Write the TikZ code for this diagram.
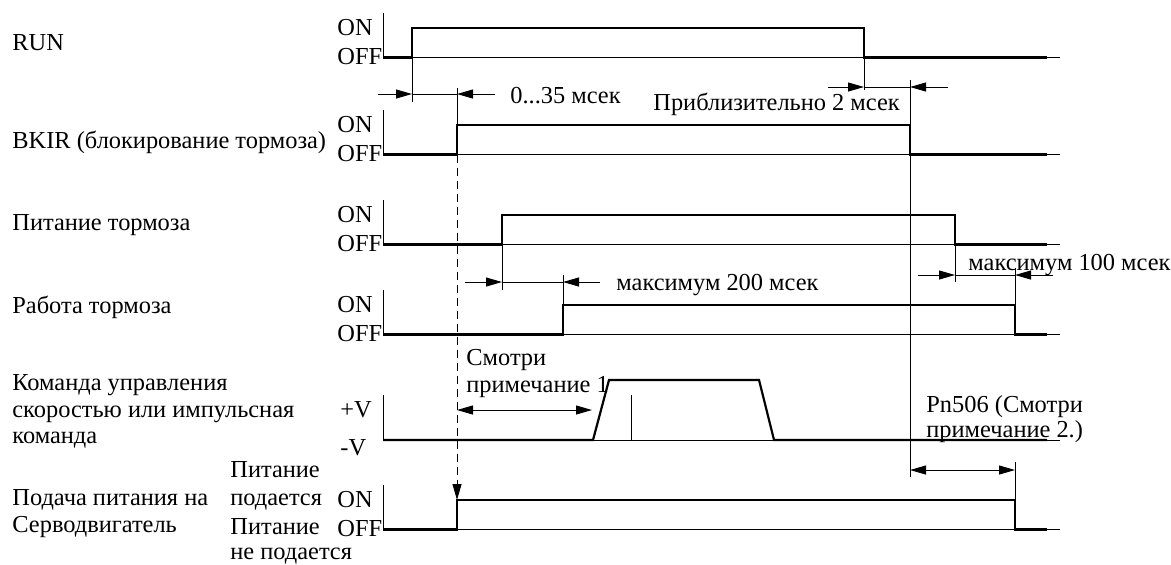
\documentclass[tikz,border=0pt]{standalone}
\usepackage{fontspec}
\setmainfont{Liberation Serif}
\usetikzlibrary{arrows.meta}

\begin{document}
\begin{tikzpicture}[
    x=0.5pt, y=-0.5pt,
    every node/.style={inner sep=0pt, font=\fontsize{12.2}{14}\selectfont},
    txt/.style={anchor=base west},
    axis/.style={line width=0.5pt},
    sig/.style={line width=1.1pt},
    ext/.style={line width=0.5pt},
    dim/.style={line width=0.5pt, -{Triangle[length=8pt,width=4.5pt]}},
    ddim/.style={line width=0.5pt, {Triangle[length=8pt,width=4.5pt]}-{Triangle[length=8pt,width=4.5pt]}},
]
    \useasboundingbox (0,0) rectangle (1171,564);
    \foreach \n/\on in {run/28, bkir/125, pwr/215, brk/305, srv/500} {
        \coordinate (\n-top) at (383,\on-15);
        \coordinate (\n-off) at (383,\on+29.5);
        \coordinate (\n-end) at (1060,\on+29.5);
        \draw[axis] (\n-top) -- (\n-off) -- (\n-end);
        \node[txt] (\n-onlbl) at (337,\on+7) {ON};
        \node[txt] (\n-offlbl) at (337,\on+36) {OFF};
    }
    \node[txt] (run-lbl) at (12,50) {RUN};
    \node[txt] (bkir-lbl) at (12,148) {BKIR (блокирование тормоза)};
    \node[txt] (pwr-lbl) at (12,230) {Питание тормоза};
    \node[txt] (brk-lbl) at (12,313) {Работа тормоза};
    \node[txt] (cmd-lbl1) at (12,390) {Команда управления};
    \node[txt] (cmd-lbl2) at (12,417) {скоростью или импульсная};
    \node[txt] (cmd-lbl3) at (12,443) {команда};
    \node[txt] (srv-lbl1) at (12,505) {Подача питания на};
    \node[txt] (srv-lbl2) at (12,532) {Серводвигатель};
    \node[txt] (srv-st1) at (230,477) {Питание};
    \node[txt] (srv-st2) at (230,505) {подается};
    \node[txt] (srv-st3) at (230,534) {Питание};
    \node[txt] (srv-st4) at (230,559) {не подается};
    \node[txt] (cmd-hi) at (340,417) {+V};
    \node[txt] (cmd-lo) at (340,455) {-V};

    \coordinate (run-rise) at (412,28);   \coordinate (run-fall) at (864,57.5);
    \coordinate (bkir-rise) at (457,154.5); \coordinate (bkir-fall) at (910,125);
    \coordinate (pwr-rise) at (502,244.5); \coordinate (pwr-fall) at (955,215);
    \coordinate (brk-rise) at (563,305);  \coordinate (brk-fall) at (1015,305);
    \coordinate (srv-rise) at (457,500);  \coordinate (srv-fall) at (1015,500);

    \draw[sig] (run-off) -- (412,57.5) |- (864,28) |- (1047,57.5);
    \draw[sig] (bkir-off) -- (bkir-rise) |- (bkir-fall) |- (1047,154.5);
    \draw[sig] (pwr-off) -- (pwr-rise) |- (pwr-fall) |- (1047,244.5);
    \draw[sig] (brk-off) -- (563,334.5) |- (brk-fall) |- (1047,334.5);
    \draw[sig] (srv-off) -- (457,529.5) |- (srv-fall) |- (1047,529.5);

    \coordinate (cmd-top) at (383,395);
    \coordinate (cmd-off) at (383,440);
    \draw[axis] (cmd-top) -- (cmd-off) -- (1060,440);
    \draw[sig] (cmd-off) -- (593,440) -- (609,380) -- (759,380) -- (774,440) -- (1047,440);
    \draw[axis] (631,395) -- (631,440);

    \coordinate (x35) at (412,102);  \coordinate (x35b) at (457,88);
    \coordinate (x2) at (864,90);    \coordinate (x2b) at (910,80);
    \coordinate (x200) at (502,290); \coordinate (x200b) at (563,275);
    \coordinate (x100) at (955,282); \coordinate (x100b) at (1015,268);
    \coordinate (xpn) at (910,477);  \coordinate (xpnb) at (1015,462);
    \draw[ext] (run-rise) -- (x35);
    \draw[ext] (bkir-rise) -- (x35b);
    \draw[ext] (run-fall) -- (x2);
    \draw[ext] (x2b) -- (xpn);
    \draw[ext] (pwr-rise) -- (x200);
    \draw[ext] (brk-rise) -- (x200b);
    \draw[ext] (pwr-fall) -- (x100);
    \draw[ext] (brk-fall) -- (x100b);
    \draw[ext] (srv-fall) -- (xpnb);
    \draw[dim, dash pattern=on 4pt off 2.5pt] (bkir-rise) -- (srv-rise);

    \coordinate (d35-a) at (378,94);  \coordinate (d35-b) at (412,94);
    \coordinate (d35-c) at (457,94);  \coordinate (d35-d) at (495,94);
    \draw[dim] (d35-a) -- (d35-b);
    \draw[ext] (d35-b) -- (d35-c);
    \draw[dim] (d35-d) -- (d35-c);
    \node[txt] (d35-lbl) at (510,103) {0...35 мсек};

    \coordinate (d2-a) at (828,87);  \coordinate (d2-b) at (864,87);
    \coordinate (d2-c) at (910,87);  \coordinate (d2-d) at (948,87);
    \draw[dim] (d2-a) -- (d2-b);
    \draw[ext] (d2-b) -- (d2-c);
    \draw[dim] (d2-d) -- (d2-c);
    \node[txt] (d2-lbl) at (653,110) {Приблизительно 2 мсек};

    \coordinate (d200-a) at (465,282); \coordinate (d200-b) at (502,282);
    \coordinate (d200-c) at (563,282); \coordinate (d200-d) at (600,282);
    \draw[dim] (d200-a) -- (d200-b);
    \draw[ext] (d200-b) -- (d200-c);
    \draw[dim] (d200-d) -- (d200-c);
    \node[txt] (d200-lbl) at (616,290) {максимум 200 мсек};

    \coordinate (d100-a) at (918,275); \coordinate (d100-b) at (955,275);
    \coordinate (d100-c) at (1015,275); \coordinate (d100-d) at (1053,275);
    \draw[dim] (d100-a) -- (d100-b);
    \draw[ext] (d100-b) -- (d100-c);
    \draw[dim] (d100-d) -- (d100-c);
    \node[txt] (d100-lbl) at (968,270) {максимум 100 мсек};

    \coordinate (n1-a) at (457,410); \coordinate (n1-b) at (592,410);
    \draw[ddim] (n1-a) -- (n1-b);
    \node[txt] (n1-lbl1) at (466,365) {Смотри};
    \node[txt] (n1-lbl2) at (466,392) {примечание 1};

    \coordinate (pn-a) at (910,470); \coordinate (pn-b) at (1015,470);
    \draw[ddim] (pn-a) -- (pn-b);
    \node[txt] (pn-lbl1) at (926,412) {Pn506 (Смотри};
    \node[txt] (pn-lbl2) at (926,437) {примечание 2.)};
\end{tikzpicture}
\end{document}
